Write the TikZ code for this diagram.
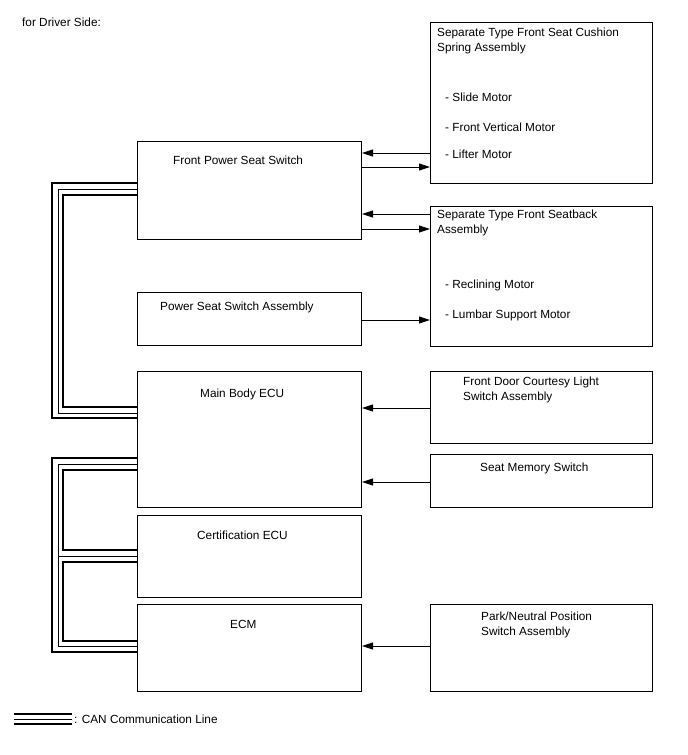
\documentclass[tikz,border=0pt]{standalone}
\usepackage{fontspec}
\setmainfont{Liberation Sans}
\usetikzlibrary{positioning,arrows.meta,calc}

\begin{document}
\begin{tikzpicture}[x=1pt,y=-1pt,>={Triangle[length=11pt,width=7pt]},
  box/.style={draw,line width=1pt,anchor=north west,inner sep=0pt},
  txt/.style={anchor=north west,inner sep=0pt,align=left,font=\fontsize{11.8}{15}\selectfont},
  arr/.style={->,line width=0.9pt},
  canout/.style={line width=1.8pt},
  canmid/.style={line width=0.7pt},
  canin/.style={line width=1.8pt}]
\useasboundingbox (0,0) rectangle (688,755);
% boxes
\node[box,minimum width=224pt,minimum height=98pt] (fpss) at (137,141) {};
\node[box,minimum width=224pt,minimum height=53pt] (pssa) at (137,292) {};
\node[box,minimum width=224pt,minimum height=136pt] (mbe) at (137,371) {};
\node[box,minimum width=224pt,minimum height=82pt] (cert) at (137,515) {};
\node[box,minimum width=224pt,minimum height=87pt] (ecm) at (137,604) {};
\node[box,minimum width=222pt,minimum height=161pt] (cush) at (430,22) {};
\node[box,minimum width=222pt,minimum height=140pt] (back) at (430,206) {};
\node[box,minimum width=222pt,minimum height=72pt] (door) at (430,371) {};
\node[box,minimum width=222pt,minimum height=53pt] (mem) at (430,454) {};
\node[box,minimum width=222pt,minimum height=87pt] (pnp) at (430,604) {};
% texts
\node[txt] (title) at (22,17.5) {for Driver Side:};
\node[txt] (cushT) at (437,27.5) {Separate Type Front Seat Cushion\\Spring Assembly};
\node[txt] (slide) at (445,92.5) {- Slide Motor};
\node[txt] (vert) at (445,122.5) {- Front Vertical Motor};
\node[txt] (lift) at (445,149.5) {- Lifter Motor};
\node[txt] (fpssT) at (173,155.5) {Front Power Seat Switch};
\node[txt] (backT) at (437,209.5) {Separate Type Front Seatback\\Assembly};
\node[txt] (recl) at (445,279.5) {- Reclining Motor};
\node[txt] (lumb) at (445,309.5) {- Lumbar Support Motor};
\node[txt] (pssaT) at (160,301.5) {Power Seat Switch Assembly};
\node[txt] (mbeT) at (200,388.5) {Main Body ECU};
\node[txt] (doorT) at (463,376.5) {Front Door Courtesy Light\\Switch Assembly};
\node[txt] (memT) at (480,462.5) {Seat Memory Switch};
\node[txt] (certT) at (197,530.5) {Certification ECU};
\node[txt] (ecmT) at (230,620.5) {ECM};
\node[txt] (pnpT) at (481,611.5) {Park/Neutral Position\\Switch Assembly};
\node[txt] (legT) at (74,714.5) {: CAN Communication Line};
% signal lines
\draw[arr] (cush.west |- 0,153) -- (fpss.east |- 0,153);
\draw[arr] (fpss.east |- 0,167) -- (cush.west |- 0,167);
\draw[arr] (back.west |- 0,214) -- (fpss.east |- 0,214);
\draw[arr] (fpss.east |- 0,229) -- (back.west |- 0,229);
\draw[arr] (pssa.east |- 0,320) -- (back.west |- 0,320);
\draw[arr] (door.west |- 0,408) -- (mbe.east |- 0,408);
\draw[arr] (mem.west |- 0,482) -- (mbe.east |- 0,482);
\draw[arr] (pnp.west |- 0,646) -- (ecm.east |- 0,646);
% CAN lines
\draw[canout] (fpss.west |- 0,183) -| (52,418) -- (mbe.west |- 0,418);
\draw[canmid] (fpss.west |- 0,189) -| (58,413) -- (mbe.west |- 0,413);
\draw[canin] (fpss.west |- 0,195) -| (63,407) -- (mbe.west |- 0,407);
\draw[canout] (mbe.west |- 0,458) -| (52,652) -- (ecm.west |- 0,652);
\draw[canmid] (mbe.west |- 0,464) -| (58,646) -- (ecm.west |- 0,646);
\draw[canmid] (58,556) -- (cert.west |- 0,556);
\draw[canin] (mbe.west |- 0,470) -| (63,550) -- (cert.west |- 0,550);
\draw[canin] (cert.west |- 0,562) -| (63,641) -- (ecm.west |- 0,641);
% legend
\draw[canout] (14,714) -- (72,714);
\draw[canmid] (14,719) -- (72,719);
\draw[canin] (14,724) -- (72,724);
\end{tikzpicture}
\end{document}
